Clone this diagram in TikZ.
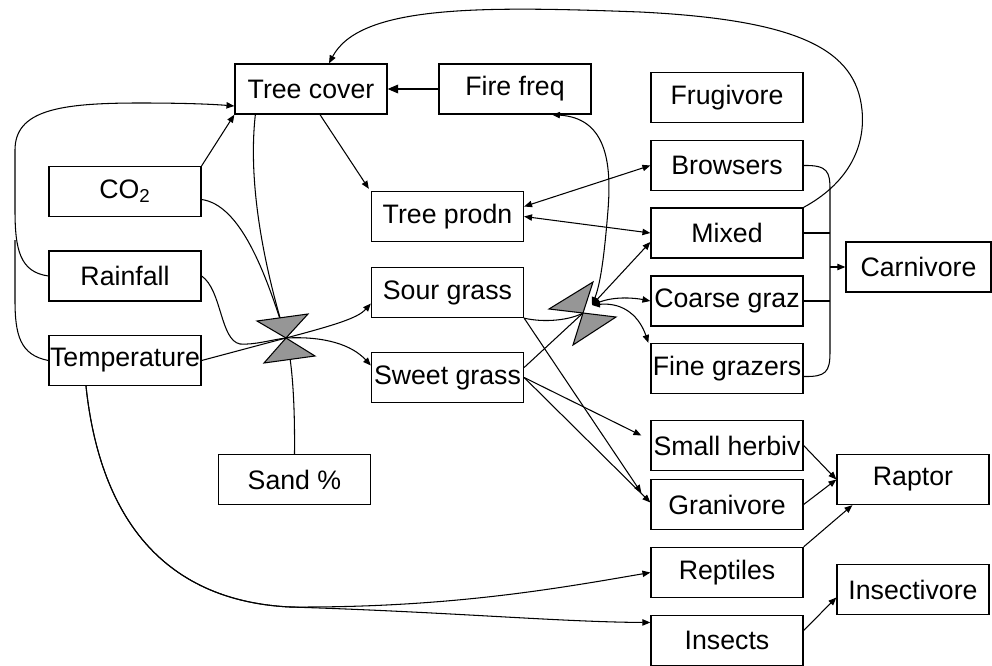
\documentclass[tikz,border=0pt]{standalone}
\usepackage{fontspec}
\setmainfont{Liberation Sans}
\usepackage{xcolor}
\usetikzlibrary{positioning,calc,arrows.meta}
\definecolor{gategray}{RGB}{150,150,150}

\begin{document}
\begin{tikzpicture}[x=0.02cm, y=-0.02cm, line width=0.6pt, >={Triangle[length=4.5pt,width=3.6pt]}, box/.style = {draw, line width=0.75pt, minimum width=3.04cm, minimum height=1cm, inner sep=0pt, font=\fontsize{15.2pt}{18pt}\selectfont}, gate/.style = {draw, fill=gategray, line width=0.6pt}, every edge/.append style={line width=0.6pt}]

\useasboundingbox (0,0) rectangle (992,666);

% drivers
\node[box] (treecover) at (311,89) {Tree cover};
\node[box] (firefreq) at (515,89) {Fire freq};
\node[box] (co2) at (125,191.5) {CO\textsubscript{2}};
\node[box] (rainfall) at (125,276) {Rainfall};
\node[box] (temperature) at (125,360.5) {Temperature};
\node[box] (sand) at (294.5,479.5) {Sand \%};
\node[box] (treeprodn) at (447.5,216.5) {Tree prodn};
\node[box] (sourgrass) at (447.5,292.5) {Sour grass};
\node[box] (sweetgrass) at (447.5,377.5) {Sweet grass};

% consumers
\node[box] (frugivore) at (727,97.5) {Frugivore};
\node[box] (browsers) at (727,165.5) {Browsers};
\node[box] (mixed) at (727,233) {Mixed};
\node[box] (coarsegraz) at (727,301) {Coarse graz};
\node[box] (finegrazers) at (727,368.5) {Fine grazers};
\node[box] (smallherbiv) at (727,445.5) {Small herbiv};
\node[box] (granivore) at (727,504.5) {Granivore};
\node[box] (reptiles) at (727,572.5) {Reptiles};
\node[box] (insects) at (727,640.5) {Insects};
\node[box, minimum width=2.9cm] (carnivore) at (918.5,267) {Carnivore};
\node[box] (raptor) at (913,479.5) {Raptor};
\node[box] (insectivore) at (913,589.5) {Insectivore};

\coordinate (gateA) at (286,338);
\coordinate (gateB) at (583,313);
\coordinate (gateBtip) at (592,305);
\coordinate (hub) at (830,267);

% into the first gate
\draw ($(co2.east)+(0,8)$) .. controls (240,205) and (265,270) .. (gateA);
\draw ($(treecover.south west)+(21,0)$) .. controls (248,180) and (262,260) .. (gateA);
\draw (sand.north) .. controls (295,400) and (292,360) .. (gateA);
\draw (rainfall.east) .. controls (222,290) and (220,340) .. (240,344) .. controls (255,345) and (270,340) .. (gateA);
\draw[->] (temperature.east) -- (gateA) .. controls (335,325) and (358,318) .. ($(sourgrass.west)+(0,11)$);
\draw[->] (gateA) .. controls (325,336) and (352,345) .. ($(sweetgrass.west)+(0,-12)$);

% into the second gate
\draw (sourgrass.south east) .. controls (545,323) and (570,320) .. (gateB);
\draw ($(sweetgrass.east)+(0,-10)$) -- (gateB);
\draw[<->] ($(firefreq.south)+(37,0)$) .. controls (605,118) and (612,160) .. (608,210) .. controls (604,260) and (600,285) .. (gateBtip);
\draw[<->] (gateBtip) .. controls (615,296) and (635,298) .. (coarsegraz.west);
\draw[<->] (gateBtip) .. controls (625,302) and (640,318) .. ($(finegrazers.north west)+(-2,0)$);

\filldraw[gate] (gateA) -- ++(-29,-17) -- ++(51,-7) -- cycle;
\filldraw[gate] (gateA) -- ++(-22,25) -- ++(51,-7) -- cycle;
\filldraw[gate] (gateB) -- ++(-34,-4) -- ++(44,-27) -- cycle;
\filldraw[gate] (gateB) -- ++(-10,32) -- ++(43,-28) -- cycle;

\path[->, line width=1.2pt, >={Triangle[length=6pt,width=5pt]}] (firefreq) edge (treecover);

\path[->]
    (co2.north east) edge (treecover.south west)
    ($(treecover.south)+(9,0)$) edge ($(treeprodn.north west)+(-2,-2)$)
    (sweetgrass.east) edge ($(smallherbiv.west)+(-9,-10)$)
    (sweetgrass.east) edge ($(granivore.west)+(0,-2)$)
    (sourgrass.south east) edge ($(granivore.north west)+(-9,14)$)
    (smallherbiv.east) edge (raptor.west)
    (granivore.east) edge (raptor.west)
    (reptiles.north east) edge ($(raptor.south west)+(16,0)$)
    ($(insects.east)+(0,-10)$) edge ($(insectivore.west)+(0,8)$)
    (hub) edge (carnivore);

\path[<->]
    ($(treeprodn.east)+(0,-10)$) edge (browsers.west)
    (treeprodn.east) edge (mixed.west)
    (gateBtip) edge ($(mixed.west)+(0,9)$);

% climate loops on the left
\draw[->] (rainfall.west) .. controls (20,272) and (15,250) .. (15,210) -- (15,150) .. controls (15,110) and (60,103) .. (140,103) .. controls (180,103) and (210,104) .. ($(treecover.west)+(0,17)$);
\draw (temperature.west) .. controls (20,355) and (15,335) .. (15,300) -- (15,240);
\draw[->] ($(temperature.south)+(-39,0)$) .. controls (98,500) and (150,600) .. (290,607) .. controls (450,608) and (560,588) .. (reptiles.west);
\draw[->] ($(temperature.south)+(-39,0)$) .. controls (98,500) and (150,600) .. (290,607) .. controls (450,612) and (560,622) .. ($(insects.west)+(0,-18)$);

% grazers to carnivore
\draw (browsers.east) .. controls (828,165) and (830,172) .. (830,190) -- (830,352) .. controls (830,372) and (826,377) .. ($(finegrazers.east)+(0,8)$);
\path
    (mixed.east) edge (mixed.east -| hub)
    (coarsegraz.east) edge (coarsegraz.east -| hub);

% mixed feeds back to tree cover
\draw[->] (mixed.north east) .. controls (845,185) and (866,150) .. (862,110) .. controls (856,50) and (800,20) .. (640,12) .. controls (480,6) and (360,5) .. ($(treecover.north)+(18,0)$);
\end{tikzpicture}
\end{document}
